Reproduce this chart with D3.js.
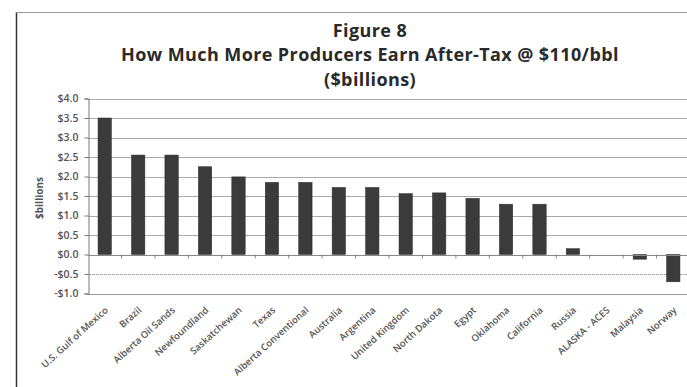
<!DOCTYPE html>
<html><head><meta charset="utf-8">
<script src="https://cdn.jsdelivr.net/npm/d3@7"></script>
<style>html,body{margin:0;padding:0;background:#fff;overflow:hidden}</style>
</head><body>
<svg id="c" width="687" height="387"></svg>
<script>
const categories = ["U.S. Gulf of Mexico","Brazil","Alberta Oil Sands","Newfoundland","Saskatchewan","Texas","Alberta Conventional","Australia","Argentina","United Kingdom","North Dakota","Egypt","Oklahoma","California","Russia","ALASKA - ACES","Malaysia","Norway"];
const values = [3.50,2.55,2.55,2.25,1.99,1.85,1.85,1.72,1.72,1.56,1.58,1.44,1.29,1.29,0.15,0,-0.12,-0.70];
const yTicks = [-1,-0.5,0,0.5,1,1.5,2,2.5,3,3.5,4];
const titleLines = ["Figure 8","How Much More Producers Earn After-Tax @ $110/bbl","($billions)"];
const yLabel = "$billions";

const svg = d3.select("#c");
const font = "'Open Sans', 'Noto Sans', sans-serif";

// frame
svg.append("line").attr("x1",16.5).attr("x2",16.5).attr("y1",12).attr("y2",387).attr("stroke","#333").attr("stroke-width",1.5);
svg.append("line").attr("x1",16).attr("x2",687).attr("y1",12.5).attr("y2",12.5).attr("stroke","#999").attr("stroke-width",1);

const x = d3.scaleBand().domain(categories).range([88,690]).paddingInner(0.6).paddingOuter(0.3);
const y = d3.scaleLinear().domain([-1,4]).range([293.5,98.5]);

// gridlines
svg.append("g").selectAll("line").data(yTicks.filter(t=>t!==0)).join("line")
  .attr("x1",88).attr("x2",687).attr("y1",d=>Math.round(y(d))+0.5).attr("y2",d=>Math.round(y(d))+0.5)
  .attr("stroke",d=>d===-1?"#999":"#aaa").attr("stroke-width",1)
  .attr("stroke-dasharray",d=>d===-0.5?"3,1":null);

// bars
svg.append("g").selectAll("rect").data(categories).join("rect")
  .attr("x",(d)=>x(d)).attr("width",x.bandwidth())
  .attr("y",(d,i)=>y(Math.max(0,values[i])))
  .attr("height",(d,i)=>Math.abs(y(values[i])-y(0)))
  .attr("fill","#3b3b3b").attr("stroke","#2a2a2a").attr("stroke-width",0.5);

// y axis
const yAxis = d3.axisLeft(y).tickValues(yTicks).tickSize(4).tickPadding(6)
  .tickFormat(d=>(d<0?"-$":"$")+Math.abs(d).toFixed(1));
const ga = svg.append("g").attr("transform","translate(88.5,0)").call(yAxis);
ga.select(".domain").attr("stroke","#777");
ga.selectAll(".tick line").attr("stroke","#777");
ga.selectAll("text").attr("font-family",font).attr("font-size",10.5).attr("font-weight",600).attr("fill","#555");

// zero axis with category ticks
const boundaries = d3.range(categories.length+1).map(i=> 88 + i*(602/categories.length));
svg.append("line").attr("x1",88).attr("x2",687).attr("y1",Math.round(y(0))+0.5).attr("y2",Math.round(y(0))+0.5).attr("stroke","#888");
svg.append("g").selectAll("line").data(boundaries.slice(1)).join("line")
  .attr("x1",d=>d).attr("x2",d=>d).attr("y1",y(0)).attr("y2",y(0)+4).attr("stroke","#888");

// category labels
svg.append("g").selectAll("text").data(categories).join("text")
  .attr("transform",d=>`translate(${x(d)+x.bandwidth()/2+4},311) rotate(-42)`)
  .attr("text-anchor","end").attr("font-family",font).attr("font-size",9.5).attr("font-weight",600)
  .attr("fill","#555").text(d=>d);

// y label
svg.append("text").attr("transform","translate(43,198) rotate(-90)").attr("text-anchor","middle")
  .attr("font-family",font).attr("font-size",10).attr("font-weight",700).attr("fill","#555").text(yLabel);

// title
const ty = [37,61,86];
svg.append("g").selectAll("text").data(titleLines).join("text")
  .attr("x",370).attr("y",(d,i)=>ty[i]).attr("text-anchor","middle")
  .attr("font-family",font).attr("font-size",18).attr("font-weight",700).attr("letter-spacing",0.4)
  .attr("fill","#2a2a2a").text(d=>d);
</script>
</body></html>
